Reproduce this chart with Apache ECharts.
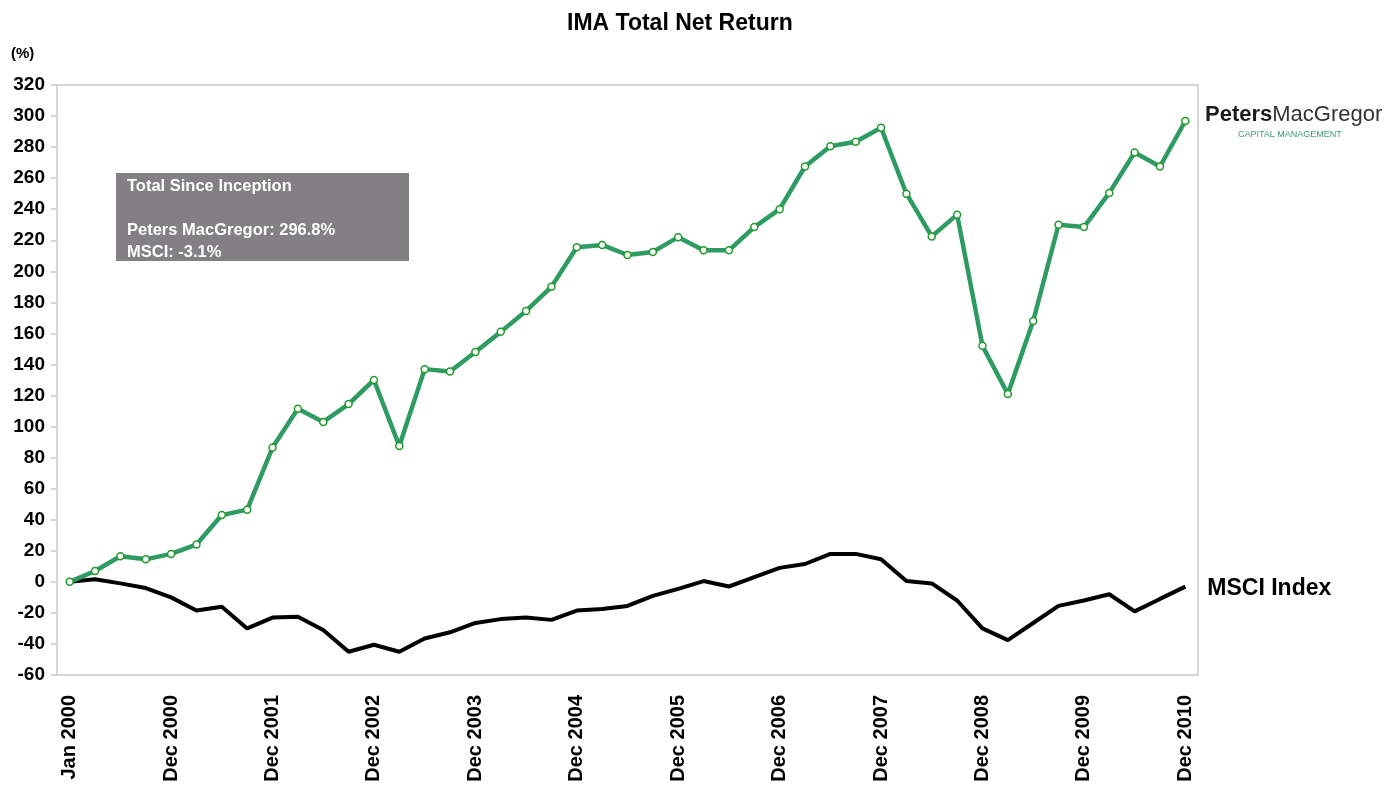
<!DOCTYPE html>
<html>
<head>
<meta charset="utf-8">
<title>IMA Total Net Return</title>
<script src="https://cdn.jsdelivr.net/npm/echarts@6/dist/echarts.min.js"></script>
<style>
html,body{margin:0;padding:0;background:#fff;}
#main{width:1395px;height:785px;}
</style>
</head>
<body>
<div id="main"></div>
<script>
// quarter ends, first point is the start of the fund
var quarters = [
	'Jan 2000','Mar 2000','Jun 2000','Sep 2000','Dec 2000',
	'Mar 2001','Jun 2001','Sep 2001','Dec 2001',
	'Mar 2002','Jun 2002','Sep 2002','Dec 2002',
	'Mar 2003','Jun 2003','Sep 2003','Dec 2003',
	'Mar 2004','Jun 2004','Sep 2004','Dec 2004',
	'Mar 2005','Jun 2005','Sep 2005','Dec 2005',
	'Mar 2006','Jun 2006','Sep 2006','Dec 2006',
	'Mar 2007','Jun 2007','Sep 2007','Dec 2007',
	'Mar 2008','Jun 2008','Sep 2008','Dec 2008',
	'Mar 2009','Jun 2009','Sep 2009','Dec 2009',
	'Mar 2010','Jun 2010','Sep 2010','Dec 2010'
];
// cumulative net return (%)
var petersMacGregor = [
	0, 7, 16.5, 14.5, 18, 24, 43, 46.5, 86.5,
	111.5, 103, 114.5, 130, 87.5, 137, 135.5, 148,
	161, 174.5, 190, 215.5, 217, 210.5, 212.5, 222,
	213.5, 213.5, 228.5, 240, 267.5, 280.5, 283.5, 292.5,
	250, 222.5, 236.5, 152, 121, 168, 230, 228.5,
	250.5, 276.5, 267.5, 296.8
];
var msciIndex = [
	0, 1.7, -1, -4, -10, -18.5, -16, -30, -23,
	-22.5, -31, -45, -40.5, -45, -36.5, -32.5, -26.5,
	-24, -23, -24.5, -18.5, -17.5, -15.5, -9, -4.5,
	0.5, -3, 3, 9, 11.5, 18, 18, 14.5,
	0.5, -1, -12, -30, -37.5, -26.5, -15.5, -12,
	-8, -19, -11, -3.1
];
var yTicks = {min: -60, max: 320, step: 20};

var FONT = '"Liberation Sans", Arial, sans-serif';

var option = {
	animation: false,
	backgroundColor: '#fff',
	title: {
		text: 'IMA Total Net Return',
		left: 562,
		top: 7,
		textStyle: {fontFamily: FONT, fontSize: 23, fontWeight: 'bold', color: '#000'}
	},
	grid: {
		left: 57, right: 197, top: 85, bottom: 110,
		show: true,
		borderColor: '#d6d6d6',
		borderWidth: 2
	},
	xAxis: {
		type: 'category',
		data: quarters,
		boundaryGap: true,
		axisLine: {show: false},
		axisTick: {show: false},
		splitLine: {show: false},
		axisLabel: {
			interval: 3,
			rotate: 90,
			margin: 20,
			fontFamily: FONT,
			fontSize: 20,
			fontWeight: 'bold',
			color: '#000'
		}
	},
	yAxis: {
		type: 'value',
		min: yTicks.min,
		max: yTicks.max,
		interval: yTicks.step,
		axisLine: {show: false},
		axisTick: {show: true, length: 6, lineStyle: {color: '#c8c8c8', width: 1.5}},
		splitLine: {show: false},
		axisLabel: {
			margin: 12,
			fontFamily: FONT,
			fontSize: 19,
			fontWeight: 'bold',
			color: '#000'
		}
	},
	graphic: [
		{
			type: 'text', left: 11, top: 46,
			style: {text: '(%)', fontFamily: FONT, fontSize: 15, fontWeight: 'bold', fill: '#000'}
		},
		{
			type: 'group', left: 116, top: 173,
			children: [
				{type: 'rect', shape: {x: 0, y: 0, width: 293, height: 88}, style: {fill: '#828083'}},
				{
					type: 'text', x: 11, y: 2,
					style: {
						text: 'Total Since Inception\n\nPeters MacGregor: 296.8%\nMSCI: -3.1%',
						fontFamily: FONT, fontSize: 16.5, fontWeight: 'bold',
						lineHeight: 22, fill: '#fff'
					}
				}
			]
		},
		{
			type: 'text', left: 1205, top: 104,
			style: {
				text: '{a|Peters}{b|MacGregor}',
				rich: {
					a: {fontFamily: FONT, fontSize: 22, fontWeight: 'bold', fill: '#1c1c1c', color: '#1c1c1c'},
					b: {fontFamily: FONT, fontSize: 22, fill: '#333', color: '#333'}
				}
			}
		},
		{
			type: 'text', left: 1238, top: 130,
			style: {text: 'CAPITAL MANAGEMENT', fontFamily: FONT, fontSize: 9, fill: '#3d9b6b'}
		}
	],
	series: [
		{
			name: 'MSCI Index',
			type: 'line',
			data: msciIndex,
			showSymbol: false,
			symbol: 'none',
			lineStyle: {color: '#000', width: 4},
			itemStyle: {color: '#000'},
			endLabel: {
				show: true,
				distance: 22,
				offset: [0, 2],
				formatter: '{a}',
				fontFamily: FONT,
				fontSize: 23,
				fontWeight: 'bold',
				color: '#000'
			},
			z: 2
		},
		{
			name: 'Peters MacGregor',
			type: 'line',
			data: petersMacGregor,
			symbol: 'circle',
			symbolSize: 7,
			lineStyle: {color: '#2e9b63', width: 4.5},
			itemStyle: {color: '#fff', borderColor: '#1f9a2a', borderWidth: 1.5},
			z: 3
		}
	]
};

var myChart = echarts.init(document.getElementById('main'));
myChart.setOption(option);
</script>
</body>
</html>
